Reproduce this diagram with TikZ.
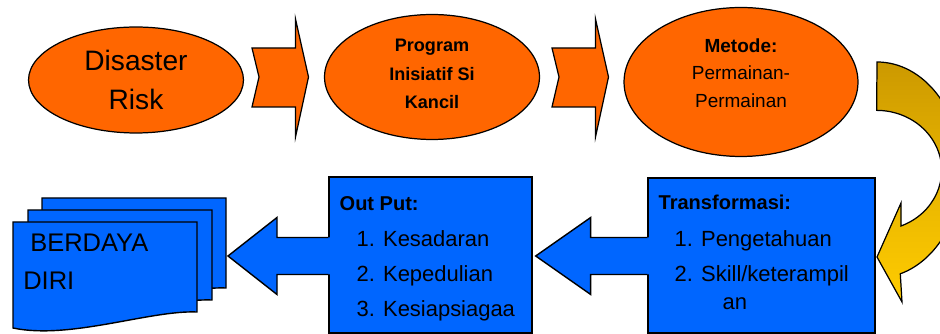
\documentclass[tikz,border=0pt]{standalone}
\usepackage{fontspec}
\setmainfont{Liberation Sans}
\usetikzlibrary{positioning,calc,shapes.geometric}
\definecolor{ovalorange}{HTML}{FF6600}
\definecolor{boxblue}{HTML}{0066FF}
\definecolor{arcgold}{HTML}{CC9900}
\definecolor{arcyellow}{HTML}{FFCC00}
% left block arrow: #1 tip, #2 node edge where the shaft ends, #3 head length
\newcommand{\blockleft}[3]{%
  \fill[boxblue] (#1) -- ++(#3,38.5) -- ++(0,-20) -- ($(#2|-#1)+(2,18.5)$)
    -- ($(#2|-#1)+(2,-18.5)$) -- ($(#1)+(#3,-18.5)$) -- ++(0,-20) -- cycle;
  \draw[blockline] ($(#2|-#1)+(0,18.5)$) -- ($(#1)+(#3,18.5)$) -- ++(0,20) -- (#1)
    -- ++(#3,-38.5) -- ++(0,20) -- ($(#2|-#1)+(0,-18.5)$);}
\tikzset{
  oval/.style={ellipse,draw=black,line width=0.7pt,fill=ovalorange,inner sep=0pt,align=center},
  chevron/.style={draw=black,line width=0.7pt,fill=ovalorange},
  bluebox/.style={rectangle,draw=black,line width=0.8pt,fill=boxblue,inner sep=0pt},
  blockline/.style={draw=black,line width=0.8pt,line join=miter},
  docpage/.style={draw=black,line width=0.8pt,fill=boxblue},
  goldarrow/.style={draw=black,line width=0.7pt,top color=arcgold,bottom color=arcyellow,
    middle color=arcgold!45!arcyellow},
  headtext/.style={font=\bfseries\fontsize{11.4}{14}\selectfont,anchor=base west,inner sep=0pt},
  itemtext/.style={font=\fontsize{12.5}{15}\selectfont,anchor=base west,inner sep=0pt},
  doctext/.style={font=\fontsize{14.5}{18}\selectfont,anchor=base west,inner sep=0pt}
}
\begin{document}
\begin{tikzpicture}[x=0.02cm,y=0.02cm]
  \clip (0,0) rectangle (940,334);
  % top row
  \node[oval,minimum width=4.30cm,minimum height=2.12cm,
        font=\fontsize{16}{22}\selectfont] (risk) at (136,254) {Disaster\\Risk};
  \node[oval,minimum width=4.30cm,minimum height=2.50cm,text depth=0.12cm,
        font=\bfseries\fontsize{10.3}{16.2}\selectfont] (program) at (432,257)
    {Program\\Inisiatif Si\\Kancil};
  \node[oval,minimum width=4.68cm,minimum height=2.98cm,text depth=0.36cm,
        font=\fontsize{10.8}{15.5}\selectfont] (metode) at (741,252)
    {\textbf{Metode:}\\Permainan-\\Permainan};
  \foreach \x in {252,552}
    \path[chevron] (\x,286) -- ++(43.5,0) -- ++(0,29) -- ++(13,-58) -- ++(-13,-60)
      -- ++(0,30) -- (\x,227) -- ++(7,30) -- cycle;
  % turning arrow
  \path[goldarrow] (877,272) arc[start angle=90,end angle=-74,x radius=84.5,y radius=108]
    -- (902,32) -- (877,77) -- (901,131) -- (901,108)
    arc[start angle=-68,end angle=90,x radius=65,y radius=60] -- cycle;
  % bottom row
  \node[bluebox,minimum width=4.54cm,minimum height=3.10cm] (transform) at (761.5,78.5) {};
  \node[bluebox,minimum width=4.06cm,minimum height=3.12cm] (output) at (430.5,79) {};
  \foreach \dx/\dy in {29/24,15/12,0/0}
    \path[docpage,shift={(\dx,\dy)}] (13,112) -- (197,112) -- (197,22)
      .. controls (150,24) and (70,-6) .. (13,6) -- cycle;
  \node[doctext] (berdaya) at (30,82) {BERDAYA};
  \node[doctext] (diri) at (23,44) {DIRI};
  \node[headtext] (outhead) at ($(output.north west)+(11,-34)$) {Out Put:};
  \foreach \t [count=\i] in {Kesadaran,Kepedulian,Kesiapsiagaa}
    \node[itemtext] (out\i) at ($(output.north west)+(28,{-35-35*\i})$) {\i. \t};
  \node[headtext] (trfhead) at ($(transform.north west)+(11,-32)$) {Transformasi:};
  \node[itemtext] (trf1) at ($(transform.north west)+(27,-69)$) {1. Pengetahuan};
  \node[itemtext] (trf2) at ($(transform.north west)+(27,-104)$) {2. Skill/keterampil};
  \node[itemtext] (trf3) at ($(transform.north west)+(75,-132)$) {an};
  % block arrows between the boxes
  \coordinate (outtip) at ($(output.east)+(3,-1)$);
  \coordinate (doctip) at (228,78);
  \blockleft{outtip}{transform.west}{55}
  \blockleft{doctip}{output.west}{49}
\end{tikzpicture}
\end{document}
